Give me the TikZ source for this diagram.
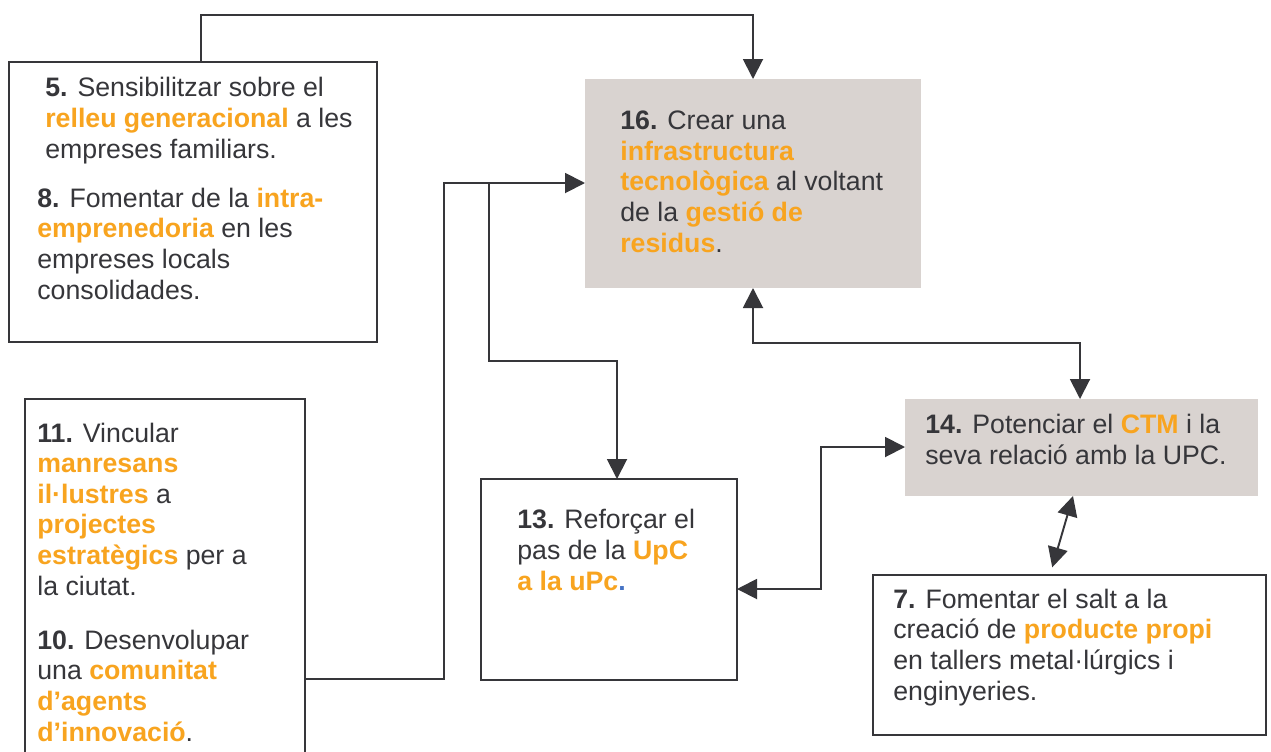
\documentclass[tikz,border=0pt]{standalone}
\usepackage{fontspec}
\setmainfont{Liberation Sans}
\usetikzlibrary{arrows.meta,fit}
\definecolor{dark}{HTML}{36363A}
\definecolor{orng}{HTML}{F8A41F}
\definecolor{boxgray}{HTML}{D9D3D0}
\definecolor{dotblue}{HTML}{4472C4}
\newcommand\hl[1]{\textbf{\textcolor{orng}{#1}}}
\begin{document}
\begin{tikzpicture}[x=0.02cm,y=-0.02cm,
  >={Triangle[length=0.4cm,width=0.4cm]},
  wbox/.style={draw=dark, line width=1.1pt, fill=white, inner sep=0pt, outer sep=0pt},
  gbox/.style={draw=none, fill=boxgray, inner sep=0pt, outer sep=0pt},
  txt/.style={anchor=base west, align=left, inner sep=0pt, text=dark, font=\fontsize{15.2}{17.4}\selectfont},
  conn/.style={draw=dark, line width=1.1pt}]
\clip (0,0) rectangle (1271,751);
\fill[white] (0,0) rectangle (1271,751);
% boxes
\node[wbox, fit={(9,62) (377,342)}] (b58) {};
\node[gbox, fit={(585,79) (921,288)}] (b16) {};
\node[wbox, fit={(25,399) (305,780)}] (b1110) {};
\node[wbox, fit={(481,479) (737,680)}] (b13) {};
\node[gbox, fit={(905,399) (1258,496)}] (b14) {};
\node[wbox, fit={(873,575) (1266,735)}] (b7) {};
% connectors
\draw[conn,->] (201,0 |- b58.north) -- (201,15) -| (b16.north);
\draw[conn,->] (b1110.east |- 0,679) -| (444,183) -- (b16.west |- 0,183);
\coordinate (j1) at (489,183);
\draw[conn,->] (j1) -- (489,361) -| (617,0 |- b13.north);
\draw[conn,<->] (b16.south) |- (1080,343) -- (1080,0 |- b14.north);
\draw[conn,<->] (b13.east |- 0,589) -| (821,447) -- (b14.west |- 0,447);
\draw[conn,<->, shorten >=0.16cm] (1073,0 |- b14.south) -- (1050,0 |- b7.north);
% texts (anchored at the baseline of their last line)
\node[txt] (t5) at (45,158) {\textbf{5.} Sensibilitzar sobre el\\ \hl{relleu generacional} a les\\ empreses familiars.};
\node[txt] (t8) at (37,299) {\textbf{8.} Fomentar de la \hl{intra-}\\ \hl{emprenedoria} en les\\ empreses locals\\ consolidades.};
\node[txt] (t16) at (620,252) {\textbf{16.} Crear una\\ \hl{infrastructura}\\ \hl{tecnològica} al voltant\\ de la \hl{gestió de}\\ \hl{residus}.};
\node[txt] (t11) at (37,595) {\textbf{11.} Vincular\\ \hl{manresans}\\ \hl{il·lustres} a\\ \hl{projectes}\\ \hl{estratègics} per a\\ la ciutat.};
\node[txt] (t10) at (37,741) {\textbf{10.} Desenvolupar\\ una \hl{comunitat}\\ \hl{d’agents}\\ \hl{d’innovació}.};
\node[txt] (t13) at (517,590) {\textbf{13.} Reforçar el\\ pas de la \hl{UpC}\\ \hl{a la uPc}\textcolor{dotblue}{\textbf{.}}};
\node[txt] (t14) at (925,464) {\textbf{14.} Potenciar el \hl{CTM} i la\\ seva relació amb la UPC.};
\node[txt] (t7) at (893,700) {\textbf{7.} Fomentar el salt a la\\ creació de \hl{producte propi}\\ en tallers metal·lúrgics i\\ enginyeries.};
\end{tikzpicture}
\end{document}
